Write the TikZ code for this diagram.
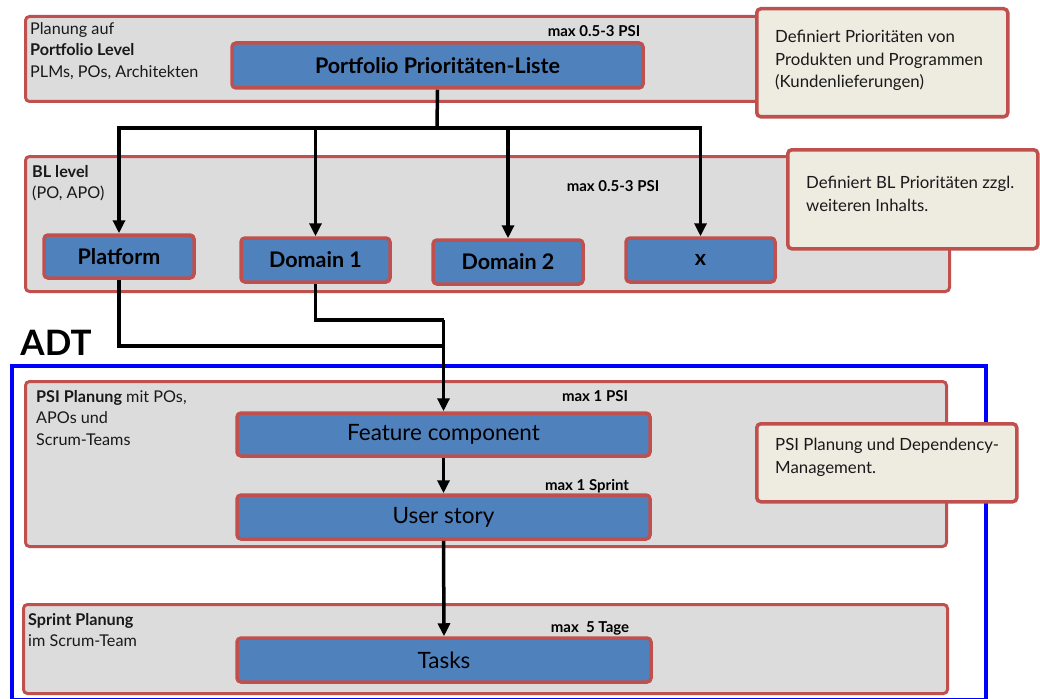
\documentclass[tikz,border=0pt]{standalone}
\usepackage{fontspec}
\setmainfont{Lato}
\usetikzlibrary{arrows.meta}
\definecolor{bandfill}{HTML}{DCDCDC}
\definecolor{redline}{HTML}{C0504D}
\definecolor{boxblue}{HTML}{4F81BD}
\definecolor{notefill}{HTML}{EEECE1}
\definecolor{adtblue}{HTML}{0000FF}
\tikzset{
  band/.style={draw=redline, fill=bandfill, line width=3pt, rounded corners=4pt, inner sep=0pt},
  bluebox/.style={draw=redline, fill=boxblue, line width=3.5pt, rounded corners=4pt, inner sep=0pt, text=black},
  notebox/.style={draw=redline, fill=notefill, line width=3.5pt, rounded corners=4pt, inner sep=0pt},
  lbl/.style={font=\fontsize{16.2}{21.5}\selectfont, anchor=north west, align=left, inner sep=0pt, text=black!90},
  notetxt/.style={font=\fontsize{16.8}{22.5}\selectfont, anchor=north west, align=left, inner sep=0pt, text=black!90},
  maxlbl/.style={font=\fontsize{15}{16}\selectfont\bfseries, inner sep=0pt},
  boldlbl/.style={font=\fontsize{21.5}{24}\selectfont\bfseries},
  plainlbl/.style={font=\fontsize{22.5}{26}\selectfont},
  conn/.style={line width=3.5pt, black},
  arr/.style={line width=3.5pt, black, -{Triangle[length=13pt,width=12pt]}},
}
\begin{document}
\begin{tikzpicture}[x=1pt,y=-1pt]
\useasboundingbox (0,0) rectangle (1040,698);
% ADT frame
\node[draw=adtblue, line width=4pt, minimum width=974pt, minimum height=334pt, anchor=north west, inner sep=0pt] (adt) at (10,364) {};
\node[font=\fontsize{35}{38}\selectfont\bfseries, inner sep=0pt] (adtlbl) at (56,343) {ADT};
% bands
\node[band, minimum width=733pt, minimum height=85pt, anchor=north west] (band1) at (24,15) {};
\node[band, minimum width=924pt, minimum height=135pt, anchor=north west] (band2) at (24,155) {};
\node[band, minimum width=921pt, minimum height=165pt, anchor=north west] (band3) at (24,380) {};
\node[band, minimum width=924pt, minimum height=89pt, anchor=north west] (band4) at (22,603) {};
% notes
\node[notebox, minimum width=251pt, minimum height=108pt, anchor=north west] (note1) at (755,7) {};
\node[notetxt] (note1t) at (775,30) {Definiert Prioritäten von\\Produkten und Programmen\\(Kundenlieferungen)};
\node[notebox, minimum width=250pt, minimum height=99pt, anchor=north west] (note2) at (786,148) {};
\node[notetxt] (note2t) at (806,176) {Definiert BL Prioritäten zzgl.\\weiteren Inhalts.};
\node[notebox, minimum width=260pt, minimum height=78pt, anchor=north west] (note3) at (755,422) {};
\node[notetxt] (note3t) at (775,438) {PSI Planung und Dependency-\\Management.};
% band labels
\node[lbl] (l1) at (30,22) {Planung auf\\\textbf{Portfolio Level}\\PLMs, POs, Architekten};
\node[lbl] (l2) at (32,165) {\textbf{BL level}\\(PO, APO)};
\node[lbl] (l3) at (36,390) {\textbf{PSI Planung} mit POs,\\APOs und\\Scrum-Teams};
\node[lbl] (l4) at (28,613) {\textbf{Sprint Planung}\\im Scrum-Team};
% max labels
\node[maxlbl] (m1) at (594,31) {max 0.5-3 PSI};
\node[maxlbl] (m2) at (613,186) {max 0.5-3 PSI};
\node[maxlbl] (m3) at (595,396) {max 1 PSI};
\node[maxlbl] (m4) at (587,486) {max 1 Sprint};
\node[maxlbl] (m5) at (590,628) {max\ \ 5 Tage};
% blue boxes
\node[bluebox, boldlbl, minimum width=411pt, minimum height=45pt] (pl) at (437.5,65.5) {Portfolio Prioritäten-Liste};
\node[bluebox, boldlbl, minimum width=150pt, minimum height=43pt] (plat) at (119,256.5) {Platform};
\node[bluebox, boldlbl, minimum width=149pt, minimum height=44pt] (d1) at (315.5,260) {Domain 1};
\node[bluebox, boldlbl, minimum width=150pt, minimum height=44pt] (d2) at (508,262) {Domain 2};
\node[bluebox, boldlbl, minimum width=149pt, minimum height=44pt] (xb) at (700.5,260) {x};
\node[bluebox, plainlbl, minimum width=413pt, minimum height=43pt] (fc) at (443.5,434.5) {Feature component};
\node[bluebox, plainlbl, minimum width=413pt, minimum height=44pt] (us) at (443.5,517) {User story};
\node[bluebox, plainlbl, minimum width=414pt, minimum height=44pt] (tk) at (444,660) {Tasks};
% connectors
\coordinate (j1) at (437,128);
\coordinate (j2) at (443.5,346);
\coordinate (j3) at (443.5,320);
\draw[conn] (pl.south) -- (j1);
\draw[arr] (j1) -| (plat.north);
\draw[arr] (j1) -| (d1.north);
\draw[arr] (j1) -| (d2.north);
\draw[arr] (j1) -| (xb.north);
\draw[conn] (plat.south) |- (j2);
\draw[conn] (d1.south) |- (j3);
\draw[arr] (j3) -- (fc.north);
\draw[arr] (fc.south) -- (us.north);
\draw[arr] (us.south) -- (tk.north);
\end{tikzpicture}
\end{document}
